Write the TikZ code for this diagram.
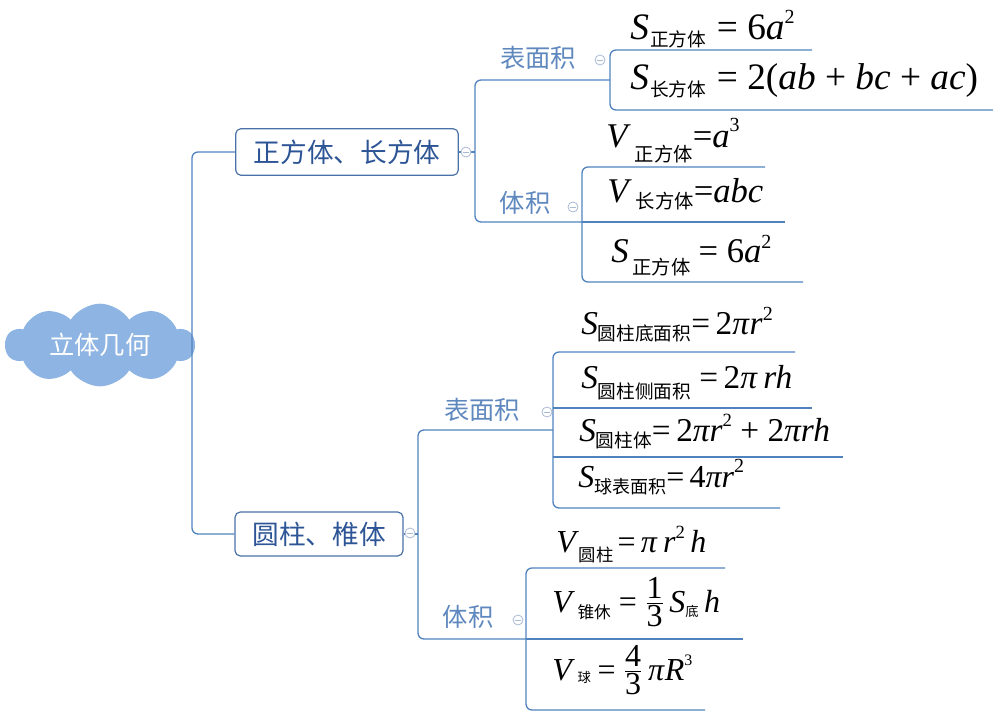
\documentclass[tikz,border=0pt]{standalone}
\usepackage{fontspec}
\usetikzlibrary{shapes.symbols}
\newfontfamily\cjk{Noto Sans CJK SC}
\newfontfamily\tms{Liberation Serif}
\definecolor{ln}{HTML}{5082BE}
\definecolor{boxc}{HTML}{4A72A8}
\definecolor{boxtxt}{HTML}{2D5596}
\definecolor{lbltxt}{HTML}{5F88BE}
\definecolor{cmc}{HTML}{A9BAD3}
\definecolor{cloudfill}{HTML}{8DB4E2}
\newcommand{\fsz}[1]{\fontsize{#1}{#1}\selectfont}
\newcommand{\vi}[1]{\textit{#1}}
\newcommand{\sbx}[3]{\lower#1pt\hbox{\cjk\fsz{#2}#3}}
\newcommand{\spx}[3]{\raise#1pt\hbox{\tms\fsz{#2}#3}}
\newcommand{\fr}[3]{${\hbox{\tms\fsz{#1}#2}\above 0.6pt\hbox{\tms\fsz{#1}#3}}$}
\tikzset{
  conn/.style={draw=ln, line width=1pt, rounded corners=4.5pt},
  box/.style={draw=boxc, line width=0.9pt, rounded corners=4pt, text=boxtxt, font=\cjk\fsz{20}, inner sep=0pt},
  lbl/.style={text=lbltxt, font=\cjk\fsz{19}, inner sep=0pt},
  cmark/.style={circle, draw=cmc, fill=white, line width=0.6pt, minimum size=7.5pt, inner sep=0pt,
    path picture={\draw[cmc, line width=0.6pt] ([xshift=-2pt]path picture bounding box.center) -- ([xshift=2pt]path picture bounding box.center);}},
  fa/.style={anchor=base west, inner sep=0pt, font=\tms\fsz{28}},
  fb/.style={anchor=base west, inner sep=0pt, font=\tms\fsz{26}},
  fc/.style={anchor=base west, inner sep=0pt, font=\tms\fsz{25}},
  fd/.style={anchor=base west, inner sep=0pt, font=\tms\fsz{24}},
}
\begin{document}
\begin{tikzpicture}[x=0.75pt, y=-0.75pt]
\useasboundingbox (0,0) rectangle (993,720);
% root cloud
\node[cloud, cloud puffs=10, cloud puff arc=115, cloud ignores aspect, fill=cloudfill, draw=none,
  minimum width=142pt, minimum height=62pt, inner sep=0pt, text=white, font=\cjk\fsz{19}] (root) at (100,345) {立体几何};
% main boxes
\node[box, minimum width=167pt, minimum height=35pt] (b1) at (347,152) {正方体、长方体};
\node[box, minimum width=126pt, minimum height=33pt] (b2) at (319,534) {圆柱、椎体};
% key x positions
\coordinate (T) at (192,0);
\coordinate (S1) at (475,0);
\coordinate (S2) at (418,0);
\coordinate (gA) at (610,80);
\coordinate (gB) at (582,222);
\coordinate (gC) at (553,430);
\coordinate (gD) at (526,639);
% trunk
\draw[conn] (b1.west) -- (b1.west -| T) -- (b2.west -| T) -- (b2.west);
% box1 branch
\draw[conn] (b1.east) -- (b1.east -| S1);
\draw[conn] (gA) -- (gA -| S1) -- (gB -| S1) -- (gB);
% box2 branch
\draw[conn] (b2.east) -- (b2.east -| S2);
\draw[conn] (gC) -- (gC -| S2) -- (gD -| S2) -- (gD);
% group A
\coordinate (A1) at (812,50);
\coordinate (A2) at (993,110);
\draw[conn] (A1) -- (A1 -| gA) -- (A2 -| gA) -- (A2);
% group B
\coordinate (B1) at (765,167);
\coordinate (B2) at (785,222);
\coordinate (B3) at (803,282);
\draw[conn] (B1) -- (B1 -| gB) -- (B3 -| gB) -- (B3);
\draw[conn] (B2 -| gB) -- (B2);
% group C
\coordinate (C1) at (795,352);
\coordinate (C2) at (812,408);
\coordinate (C3) at (843,457);
\coordinate (C4) at (780,508);
\draw[conn] (C1) -- (C1 -| gC) -- (C4 -| gC) -- (C4);
\draw[conn] (C2 -| gC) -- (C2);
\draw[conn] (C3 -| gC) -- (C3);
% group D
\coordinate (D1) at (725,568);
\coordinate (D2) at (743,639);
\coordinate (D3) at (705,710);
\draw[conn] (D1) -- (D1 -| gD) -- (D3 -| gD) -- (D3);
\draw[conn] (D2 -| gD) -- (D2);
% labels
\node[lbl] (l1) at (538,58) {表面积};
\node[lbl] (l2) at (525,203) {体积};
\node[lbl] (l3) at (482,410) {表面积};
\node[lbl] (l4) at (468,617) {体积};
% collapse markers
\node[cmark] (m0) at (466,152) {};
\node[cmark] (m1) at (600,60) {};
\node[cmark] (m2) at (573,207) {};
\node[cmark] (m3) at (410,533) {};
\node[cmark] (m4) at (547,412) {};
\node[cmark] (m5) at (518,620) {};
% formulas group A
\node[fa] (fA1) at (630,40) {\vi{S}\hspace{1pt}\sbx{5}{14}{正方体}\hspace{8pt}= 6\vi{a}\spx{12}{15}{2}};
\node[fa] (fA2) at (630,90) {\vi{S}\hspace{1pt}\sbx{5}{14}{长方体}\hspace{8pt}= 2(\vi{ab} + \vi{bc} + \vi{ac})};
% group B
\node[fb] (fB1) at (606,148) {\vi{V}\hspace{3pt}\sbx{10}{14.5}{正方体}=\vi{a}\spx{12}{15}{3}};
\node[fb] (fB2) at (607,203) {\vi{V}\hspace{3pt}\sbx{4}{14.5}{长方体}=\vi{abc}};
\node[fb] (fB3) at (611,263) {\vi{S}\hspace{3pt}\sbx{9}{14.5}{正方体}\hspace{6pt}= 6\vi{a}\spx{11}{15}{2}};
% group C
\node[fc] (fC1) at (581,335) {\vi{S}\sbx{4.5}{14}{圆柱底面积}=\,2\vi{π}\vi{r}\spx{11}{15}{2}};
\node[fc] (fC2) at (581,388) {\vi{S}\sbx{7.5}{14}{圆柱侧面积}\hspace{6pt}=\,2\vi{π}\,\vi{rh}};
\node[fc] (fC3) at (579,441) {\vi{S}\sbx{5}{14}{圆柱体}=\,2\vi{πr}\spx{11}{14}{2} + 2\vi{πrh}};
\node[fd] (fC4) at (578,487) {\vi{S}\sbx{4.5}{13.5}{球表面积}=\,4\vi{πr}\spx{11}{15}{2}};
% group D
\node[fd] (fD1) at (556,552) {\vi{V}\sbx{7}{13}{圆柱}\hspace{3pt}=\,\vi{π}\,\vi{r}\spx{10}{14}{2}\,\vi{h}};
\node[fd] (fD2) at (552,612) {\vi{V}\hspace{2pt}\sbx{4.5}{12.5}{锥休}\hspace{6pt}= \fr{24}{1}{3}\,\vi{S}\sbx{3}{10}{底}\,\vi{h}};
\node[fd] (fD3) at (552,680) {\vi{V}\hspace{2pt}\sbx{1.5}{10}{球}\hspace{5pt}= \fr{24}{4}{3}\,\vi{π}\vi{R}\spx{11}{12}{3}};
\end{tikzpicture}
\end{document}
